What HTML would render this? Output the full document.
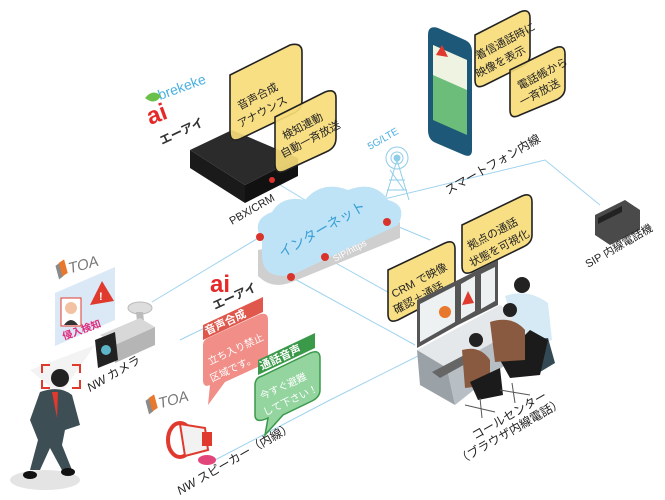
<!DOCTYPE html>
<html><head><meta charset="utf-8"><style>
html,body{margin:0;padding:0;background:#fff;width:665px;height:500px;overflow:hidden}
svg text{font-family:"Liberation Sans","Noto Sans CJK JP",sans-serif}
</style></head><body>
<svg width="665" height="500" viewBox="0 0 665 500" xmlns="http://www.w3.org/2000/svg">
<!-- connector lines -->
<g stroke="#9fd3ef" stroke-width="1" fill="none">
<path d="M152 302 L260 237"/>
<path d="M272 180 L305 200"/>
<path d="M380 200 L545 160 L600 205"/>
<path d="M387 222 L430 240"/>
<path d="M325 257 L420 310"/>
<path d="M291 277 L415 345"/>
<path d="M215 460 L330 400 L420 355"/>
<path d="M262 300 L180 340"/>
</g>
<!-- tower -->
<g stroke="#8fcde9" fill="none" stroke-width="1">
<circle cx="397" cy="158" r="6"/><circle cx="397" cy="158" r="11"/>
<path d="M397 160 L385 200 M397 160 L409 200 M389 180 L405 180 M387 190 L407 190 M390 170 L404 190"/>
</g>
<circle cx="397" cy="158" r="3.5" fill="#8fcde9"/>
<text x="370" y="150" font-size="10" fill="#4aaee0" transform="rotate(-30 370 150)">5G/LTE</text>
<!-- cloud -->
<path d="M258 250 L258 276 Q272 290 292 282 L400 238 L400 222 Z" fill="#cfcfcf"/>
<path d="M262 240 Q250 220 272 212 Q282 195 305 200 Q322 180 348 190 Q375 180 388 200 Q408 205 398 225 L292 275 Q262 280 262 255 Z" fill="#bfe3f6"/>
<text x="282" y="258" font-size="14" fill="#3aa0d8" transform="rotate(-30 282 258)">インターネット</text>
<text x="335" y="262" font-size="9" fill="#fff" transform="rotate(-28 335 262)">SIP/https</text>
<g fill="#d9342b"><circle cx="260" cy="237" r="4"/><circle cx="325" cy="257" r="4"/><circle cx="387" cy="222" r="4"/><circle cx="291" cy="277" r="4"/></g>
<!-- server -->
<path d="M190 150 L232 130 L298 158 L245 185 Z" fill="#2b2b2b"/>
<path d="M190 150 L245 185 L245 203 L190 168 Z" fill="#1a1a1a"/>
<path d="M245 185 L298 158 L298 176 L245 203 Z" fill="#111"/>
<circle cx="272" cy="180" r="3" fill="#d9342b"/>
<text x="232" y="225" font-size="11" fill="#222" transform="rotate(-30 232 225)">PBX/CRM</text>
<!-- brekeke / ai logos -->
<text x="160" y="100" font-size="14" fill="#4ab0e0" transform="rotate(-20 160 100)">brekeke</text>
<path d="M145 98 q8 -10 16 -2 q-6 10 -16 2z" fill="#6bc04b"/>
<text x="150" y="125" font-size="24" font-weight="bold" fill="#e62828" transform="rotate(-20 150 125)">ai</text>
<text x="162" y="145" font-size="12" font-weight="bold" fill="#333" transform="rotate(-25 162 145)">エーアイ</text>
<!-- yellow bubbles -->
<g fill="#f7dc7a" fill-opacity="0.92" stroke="#222" stroke-width="1.6">
<path d="M230 75 L290 45 Q302 42 302 52 L302 100 Q302 110 292 114 L242 138 Q230 144 230 132 Z"/>
<path d="M275 117 L325 92 Q336 88 336 98 L336 138 Q336 148 326 152 L287 170 Q275 176 275 164 Z"/>
<path d="M475 35 L520 12 Q530 8 530 18 L530 55 Q530 63 521 67 L485 85 Q475 90 475 80 Z"/>
<path d="M510 70 L555 48 Q565 44 565 54 L565 88 Q565 96 556 100 L520 115 Q510 120 510 110 Z"/>
<path d="M388 270 L445 243 Q455 239 455 249 L455 283 Q455 291 446 295 L398 320 Q388 324 388 314 Z"/>
<path d="M462 225 L522 196 Q532 192 532 202 L532 235 Q532 243 523 247 L472 272 Q462 276 462 266 Z"/>
</g>
<g font-size="11" fill="#222">
<text x="240" y="110" transform="rotate(-28 240 110)">音声合成</text>
<text x="240" y="128" transform="rotate(-28 240 128)">アナウンス</text>
<text x="285" y="140" transform="rotate(-28 285 140)">検知連動</text>
<text x="283" y="158" transform="rotate(-28 283 158)">自動一斉放送</text>
<text x="478" y="60" transform="rotate(-28 478 60)">着信通話時に</text>
<text x="478" y="78" transform="rotate(-28 478 78)">映像を表示</text>
<text x="520" y="90" transform="rotate(-28 520 90)">電話帳から</text>
<text x="522" y="106" transform="rotate(-28 522 106)">一斉放送</text>
<text x="394" y="298" transform="rotate(-28 394 298)">CRM で映像</text>
<text x="396" y="314" transform="rotate(-28 396 314)">確認＋通話</text>
<text x="470" y="250" transform="rotate(-28 470 250)">拠点の通話</text>
<text x="472" y="267" transform="rotate(-28 472 267)">状態を可視化</text>
</g>
<!-- smartphone -->
<path d="M428 35 Q428 25 438 28 L465 40 Q472 43 472 52 L472 150 Q472 158 464 155 L436 143 Q428 140 428 130 Z" fill="#1e5878"/>
<path d="M433 45 L467 60 L467 135 L433 120 Z" fill="#6dbd7a"/>
<path d="M433 45 L467 60 L467 90 L433 75 Z" fill="#eef3e2"/>
<path d="M436 55 l6 -10 l6 12 z" fill="#e03a2e"/>
<text x="448" y="195" font-size="12" fill="#222" transform="rotate(-30 448 195)">スマートフォン内線</text>
<!-- SIP phone -->
<path d="M595 215 L625 200 L640 210 L640 230 L610 245 L595 235 Z" fill="#4a4a4a"/>
<path d="M598 218 L622 206 L622 212 L598 224 Z" fill="#222"/>
<text x="588" y="268" font-size="11" fill="#222" transform="rotate(-30 588 268)">SIP 内線電話機</text>
<!-- call center desk -->
<path d="M417 350 L500 305 L530 322 L447 368 Z" fill="#e4e8ea"/>
<path d="M417 350 L447 368 L455 405 L420 385 Z" fill="#9aa2a8"/>
<path d="M447 368 L530 322 L530 345 L455 405 Z" fill="#b8bfc4"/>
<path d="M417 300 L458 280 L458 325 L417 348 Z" fill="#555"/><path d="M420 304 L455 286 L455 322 L420 342 Z" fill="#eef1f2"/>
<circle cx="445" cy="312" r="6" fill="#e8782c"/>
<path d="M458 280 L478 270 L478 315 L458 325 Z" fill="#555"/><path d="M461 284 L475 276 L475 311 L461 319 Z" fill="#eef1f2"/>
<path d="M462 305 l6 -14 l6 12 z" fill="#e03a2e"/>
<path d="M478 270 L498 260 L498 305 L478 315 Z" fill="#555"/><path d="M481 274 L495 267 L495 301 L481 309 Z" fill="#eef1f2"/>
<path d="M432 372 L470 352 L478 357 L440 378 Z" fill="#666"/>
<!-- people -->
<circle cx="522" cy="285" r="8" fill="#222"/>
<path d="M505 296 Q528 288 548 303 L552 340 L522 350 Z" fill="#d6eaf6"/>
<path d="M530 340 L548 338 L555 363 L540 372 L538 355 Z" fill="#334a55"/>
<path d="M500 360 L530 330 L548 340 L540 375 L510 378 Z" fill="#1b1b1b"/>
<circle cx="510" cy="310" r="7" fill="#222"/>
<path d="M490 322 Q512 315 525 330 L525 360 L495 362 Z" fill="#8a5a40"/>
<circle cx="476" cy="340" r="7" fill="#222"/>
<path d="M462 350 Q480 345 490 360 L490 385 L465 388 Z" fill="#8a5a40"/>
<path d="M470 382 L500 368 L503 395 L478 400 Z" fill="#1b1b1b"/>
<g stroke="#555" stroke-width="1"><path d="M465 405 L495 412 M480 398 L482 418 M500 390 L530 395 M512 383 L515 403"/></g>
<text x="475" y="440" font-size="12" fill="#222" transform="rotate(-30 475 440)">コールセンター</text>
<text x="460" y="465" font-size="12" fill="#222" transform="rotate(-30 460 465)">（ブラウザ内線電話）</text>
<!-- TOA logos -->
<g transform="rotate(-15 60 275)">
<path d="M58 265 l5 -2 v14 l-5 2z" fill="#8a8a8a"/><path d="M62 263 l6 -2 v14 l-6 2z" fill="#e8782c"/>
<text x="70" y="276" font-size="15" font-style="italic" fill="#777">TOA</text></g>
<g transform="rotate(-15 150 410)">
<path d="M148 400 l5 -2 v14 l-5 2z" fill="#8a8a8a"/><path d="M152 398 l6 -2 v14 l-6 2z" fill="#e8782c"/>
<text x="160" y="411" font-size="15" font-style="italic" fill="#777">TOA</text></g>
<!-- intrusion card -->
<path d="M55 293 L115 267 L115 320 L55 346 Z" fill="#dbe9f6"/>
<rect x="61" y="298" width="20" height="28" fill="#fff" stroke="#e03a2e"/>
<circle cx="71" cy="308" r="6" fill="#f3c2a2"/><path d="M64 325 q7 -10 14 0z" fill="#333"/>
<path d="M90 305 l12 -24 l12 20 z" fill="#e03a2e"/><text x="99" y="300" font-size="11" fill="#fff" font-weight="bold">!</text>
<text x="64" y="340" font-size="10" fill="#e0287a" font-weight="bold" transform="rotate(-20 64 340)">侵入検知</text>
<!-- camera -->
<ellipse cx="140" cy="308" rx="12" ry="6" fill="#ddd" stroke="#bbb"/>
<path d="M136 312 L143 312 L145 330 L138 330 Z" fill="#bbb"/>
<path d="M100 335 L140 318 L155 327 L115 345 Z" fill="#d8d8d8"/>
<path d="M115 345 L155 327 L155 345 L115 363 Z" fill="#b5b5b5"/>
<path d="M95 340 L115 332 L118 360 L98 368 Z" fill="#222"/>
<circle cx="106" cy="350" r="5" fill="#5cb6c8"/>
<path d="M95 345 L30 370 L60 395 Z" fill="#eee" opacity="0.7"/>
<text x="90" y="392" font-size="12" fill="#222" transform="rotate(-30 90 392)"><tspan font-style="italic">NW</tspan> カメラ</text>
<!-- man -->
<path d="M50 365 h-8 v8 M72 365 h8 v8 M42 380 v8 h8 M80 380 v8 h-8" stroke="#e03a2e" stroke-width="2" fill="none"/>
<ellipse cx="45" cy="480" rx="35" ry="10" fill="#e4e4e4"/>
<circle cx="60" cy="378" r="9" fill="#222"/>
<path d="M40 392 Q60 385 72 395 L80 425 L65 430 L62 445 L72 470 L63 472 L50 448 L40 470 L30 470 L38 440 L30 420 Z" fill="#3d4f55"/>
<path d="M52 392 L58 392 L57 418 Z" fill="#e03a2e"/>
<ellipse cx="30" cy="475" rx="7" ry="4" fill="#111"/><ellipse cx="68" cy="472" rx="7" ry="4" fill="#111"/>
<!-- ai logo 2 -->
<text x="210" y="292" font-size="24" font-weight="bold" fill="#e62828">ai</text>
<text x="215" y="310" font-size="12" font-weight="bold" fill="#333" transform="rotate(-25 215 310)">エーアイ</text>
<!-- pink bubble -->
<path d="M203 325 L263 297 L263 312 L203 340 Z" fill="#e0574b"/>
<text x="207" y="335" font-size="11" font-weight="bold" fill="#fff" transform="rotate(-25 207 335)">音声合成</text>
<path d="M203 345 Q203 340 208 338 L258 315 Q268 311 268 320 L268 355 Q268 362 260 366 L225 382 L208 405 L210 385 Q203 388 203 380 Z" fill="#f08e87"/>
<text x="210" y="365" font-size="10" fill="#fff" transform="rotate(-25 210 365)">立ち入り禁止</text>
<text x="212" y="382" font-size="10" fill="#fff" transform="rotate(-25 212 382)">区域です。</text>
<!-- green bubble -->
<path d="M258 360 L315 333 L315 348 L258 375 Z" fill="#3a9a4a"/>
<text x="262" y="370" font-size="11" font-weight="bold" fill="#fff" transform="rotate(-25 262 370)">通話音声</text>
<path d="M255 385 Q255 378 262 376 L310 353 Q320 349 320 358 L320 390 Q320 397 312 401 L283 415 L265 435 L268 418 Q255 424 255 415 Z" fill="#93d49f" stroke="#3a9a4a" stroke-width="1.5"/>
<text x="262" y="400" font-size="10" fill="#fff" transform="rotate(-25 262 400)">今すぐ避難</text>
<text x="265" y="416" font-size="10" fill="#fff" transform="rotate(-25 265 416)">して下さい！</text>
<!-- speaker -->
<ellipse cx="180" cy="440" rx="12" ry="17" fill="#fff" stroke="#e03a2e" stroke-width="4"/>
<path d="M180 424 L205 428 L208 450 L185 456 Z" fill="#f2f2f2" stroke="#e03a2e" stroke-width="2"/>
<rect x="202" y="432" width="10" height="14" fill="#e03a2e"/>
<ellipse cx="207" cy="460" rx="9" ry="5" fill="#e2457a"/>
<text x="180" y="495" font-size="12" fill="#222" transform="rotate(-30 180 495)"><tspan font-style="italic">NW</tspan> スピーカー（内線）</text>
</svg>
</body></html>
